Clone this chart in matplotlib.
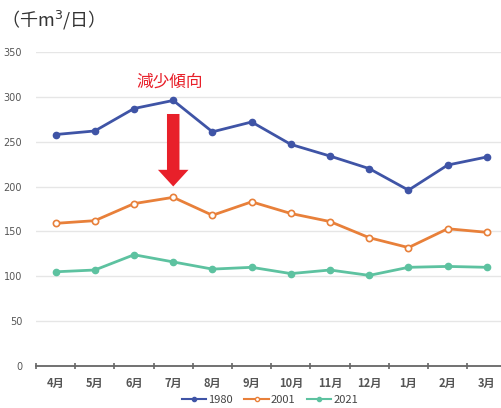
import matplotlib
matplotlib.use('Agg')
import matplotlib.pyplot as plt
from matplotlib.lines import Line2D

plt.rcParams['font.family'] = ['Noto Sans CJK JP', 'DejaVu Sans']

# data (千m3/日)
months = ['4月', '5月', '6月', '7月', '8月', '9月', '10月', '11月', '12月', '1月', '2月', '3月']
v1980 = [258, 262, 287, 296, 261, 272, 247, 234, 220, 196, 224, 233]
v2001 = [159, 162, 181, 188, 168, 183, 170, 161, 143, 132, 153, 149]
v2021 = [105, 107, 124, 116, 108, 110, 103, 107, 101, 110, 111, 110]
yticks = [0, 50, 100, 150, 200, 250, 300, 350]

c1980 = '#3f54a6'
c2001 = '#e8803a'
c2021 = '#5dc2a0'

fig = plt.figure(figsize=(5.01, 4.08), dpi=100)
ax = fig.add_axes([36 / 501, 42 / 408, 465 / 501, 314 / 408])

x = list(range(len(months)))
ax.plot(x, v1980, color=c1980, lw=2, marker='o', ms=4.5, label='1980')
ax.plot(x, v2001, color=c2001, lw=2, marker='o', ms=4.5, mfc='white', mec=c2001, mew=1.2, label='2001')
ax.plot(x, v2021, color=c2021, lw=2, marker='o', ms=4.5, label='2021')

ax.set_xlim(-0.5, 11.36)
ax.set_ylim(0, 350)
ax.set_yticks(yticks)
ax.yaxis.grid(True, color='#e6e6e6', lw=1)
ax.set_axisbelow(True)
for s in ['top', 'right', 'left']:
    ax.spines[s].set_visible(False)
ax.spines['bottom'].set_color('#666666')
ax.spines['bottom'].set_linewidth(1.3)

ax.set_xticks(x)
ax.set_xticklabels(months, fontsize=8, fontweight='bold', color='#555555')
ax.set_xticks([i - 0.5 for i in x], minor=True)
ax.tick_params(axis='x', which='major', length=0, pad=8)
ax.tick_params(axis='x', which='minor', length=4, direction='inout', color='#666666', width=1.2)
ax.tick_params(axis='y', length=0, labelsize=7, labelcolor='#555555', pad=10)
for lab in ax.get_yticklabels():
    lab.set_fontfamily('DejaVu Sans')

# annotation: red arrow and text above July
ax.annotate('', xy=(3, v2001[3] + 9), xytext=(3, 284),
            arrowprops=dict(arrowstyle='simple,head_width=2.2,head_length=1.2,tail_width=0.9',
                            color='#e8202a', lw=0))
ax.text(2.9, 316, '減少傾向', color='#e8202a', fontsize=12, ha='center', va='center')

fig.text(1 / 501, 1 - 20 / 408, '（千m$^3$/日）', fontsize=13, color='#333333', va='center', ha='left')

handles = [
    Line2D([], [], color=c1980, lw=1.5, marker='o', ms=3),
    Line2D([], [], color=c2001, lw=1.5, marker='o', ms=3, mfc='white', mec=c2001),
    Line2D([], [], color=c2021, lw=1.5, marker='o', ms=3),
]
fig.legend(handles, ['1980', '2001', '2021'], loc='center', bbox_to_anchor=(270 / 501, 1 - 400 / 408),
           ncol=3, frameon=False, fontsize=8, handlelength=2.2, handletextpad=0.2, columnspacing=1.0,
           labelcolor='#444444')

fig.savefig('out.png', dpi=100)
